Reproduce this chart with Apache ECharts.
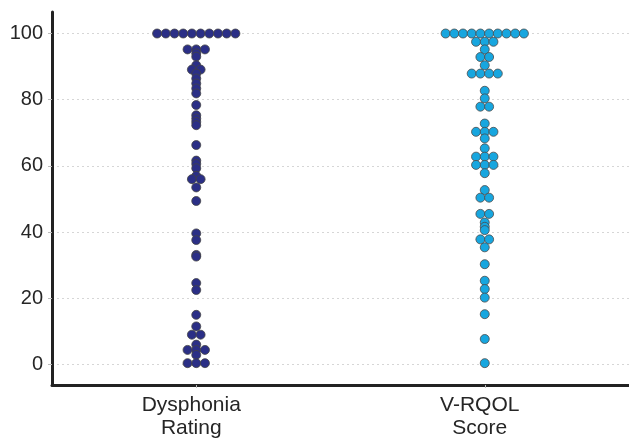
<!DOCTYPE html>
<html>
<head>
<meta charset="utf-8">
<script src="https://cdn.jsdelivr.net/npm/echarts@6/dist/echarts.min.js"></script>
<style>
  html, body { margin: 0; padding: 0; background: #fff; }
  #chart { width: 629px; height: 442px; }
</style>
</head>
<body>
<div id="chart"></div>
<script>
// categories and their x positions
const categories = ['Dysphonia\nRating', 'V-RQOL\nScore'];
const catPos = [0, 1];
const yTicks = [0, 20, 40, 60, 80, 100];

// values (equal values sit side by side in one row)
const dysphonia = [
  100, 100, 100, 100, 100, 100, 100, 100, 100, 100,
  95.2, 95.2, 95.2, 94.0, 93.0, 90.4, 89.1, 89.1, 87.9,
  86.4, 84.9, 83.4, 81.9, 78.4,
  75.3, 74.3, 73.3, 72.3, 66.3,
  61.6, 60.6, 59.3, 57.0, 56.0, 56.0, 53.5, 49.4,
  39.6, 37.6, 33.1, 32.6, 24.6, 22.5, 15.0, 11.5,
  9.0, 9.0, 6.0, 4.4, 4.4, 4.4, 2.9, 0.4, 0.4, 0.4
];
const vrqol = [
  100, 100, 100, 100, 100, 100, 100, 100, 100, 100,
  97.5, 97.5, 97.5, 95.2, 92.9, 92.9, 90.4,
  87.9, 87.9, 87.9, 87.9, 82.7, 80.4, 77.9, 77.9,
  72.8, 70.3, 70.3, 70.3, 68.3, 65.3,
  62.8, 62.8, 62.8, 60.3, 60.3, 60.3, 57.8,
  52.7, 50.4, 50.4, 45.5, 45.5, 42.9, 41.6, 40.6,
  37.8, 37.8, 35.4, 30.3, 25.3, 22.8, 20.2, 15.2, 7.7, 0.4
];

// horizontal step between neighbours in a row, in x-axis units (~8.7px)
const STEP = 8.7 / 288.5;

function swarm(values, center) {
  const counts = {};
  values.forEach(v => { counts[v] = (counts[v] || 0) + 1; });
  const seen = {};
  return values.map(v => {
    seen[v] = seen[v] === undefined ? 0 : seen[v] + 1;
    const n = counts[v];
    return [center + (seen[v] - (n - 1) / 2) * STEP, v];
  });
}

const chart = echarts.init(document.getElementById('chart'));
chart.setOption({
  animation: false,
  grid: { left: 52, right: 0, top: 12, bottom: 57 },
  xAxis: {
    type: 'value',
    min: -0.5,
    max: 1.5,
    axisLine: { show: true, onZero: false, lineStyle: { color: '#222', width: 3 } },
    axisTick: { show: true, customValues: catPos, length: 3, lineStyle: { color: '#bbb' } },
    splitLine: { show: false },
    axisLabel: {
      customValues: catPos,
      formatter: v => categories[Math.round(v)],
      fontFamily: 'Liberation Sans, Arial, sans-serif',
      fontSize: 21,
      lineHeight: 23,
      color: '#262626',
      margin: 9,
      padding: [0, 10, 0, 0]
    }
  },
  yAxis: {
    type: 'value',
    min: -6.2,
    max: 106.5,
    axisLine: { show: true, onZero: false, lineStyle: { color: '#222', width: 3 } },
    axisTick: { show: true, customValues: yTicks, length: 4, lineStyle: { color: '#bbb' } },
    axisLabel: {
      customValues: yTicks,
      fontFamily: 'Liberation Sans, Arial, sans-serif',
      fontSize: 20,
      color: '#262626',
      margin: 9
    },
    splitLine: { show: true, lineStyle: { color: '#d6d6d6', width: 1, type: [2, 3] } }
  },
  series: [
    {
      type: 'scatter',
      data: swarm(dysphonia, catPos[0]),
      symbolSize: 9,
      itemStyle: { color: '#2b2f86', borderColor: '#444', borderWidth: 0.8, opacity: 1 }
    },
    {
      type: 'scatter',
      data: swarm(vrqol, catPos[1]),
      symbolSize: 9,
      itemStyle: { color: '#17a6df', borderColor: '#4a4a4a', borderWidth: 0.8, opacity: 1 }
    }
  ]
});
</script>
</body>
</html>
